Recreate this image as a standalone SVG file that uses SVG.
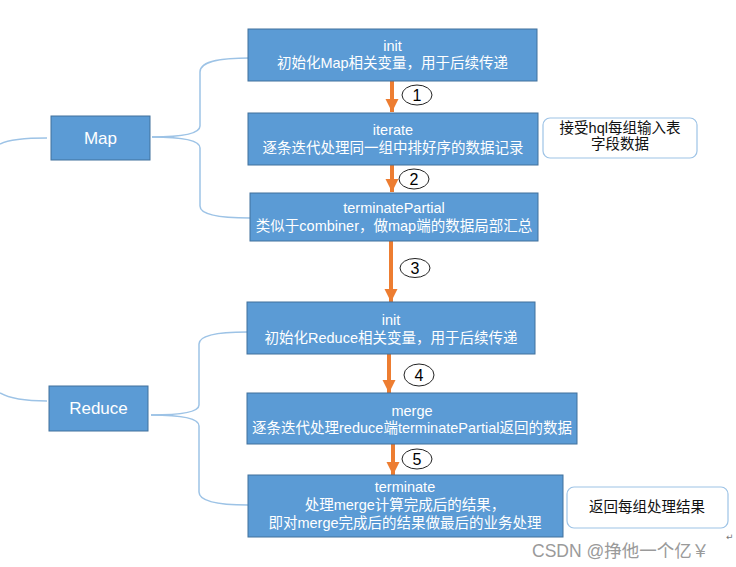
<svg xmlns="http://www.w3.org/2000/svg" width="736" height="567" viewBox="0 0 736 567">
<style>
.box{fill:#5B9BD5;stroke:#41719C;stroke-width:1}
.t{font-family:"Liberation Sans","Noto Sans CJK SC",sans-serif;font-size:14.5px;fill:#fff;text-anchor:middle}
.big{font-size:17px}
.note{fill:#fff;stroke:#9DC3E6;stroke-width:1.2}
.nt{font-family:"Liberation Sans","Noto Sans CJK SC",sans-serif;font-size:14.5px;fill:#111;text-anchor:middle}
.lk{fill:none;stroke:#9DC3E6;stroke-width:1.5}
.arr{stroke:#ED7D31;stroke-width:4;fill:none}
.num{fill:#fff;stroke:#222;stroke-width:1}
.nn{font-family:"Liberation Sans",sans-serif;font-size:16px;fill:#000;text-anchor:middle}
.wm{font-family:"Liberation Sans","Noto Sans CJK SC",sans-serif;font-size:17.5px;fill:#9a9a9a}
</style>
<defs>
<marker id="ah" viewBox="0 0 10 10" refX="10" refY="5" markerWidth="3.3" markerHeight="3.3" markerUnits="strokeWidth" orient="auto">
<path d="M0,0 L10,5 L0,10 z" fill="#ED7D31"/>
</marker>
</defs>
<g id="connectors">
<path class="lk" d="M0,144 C10,139 30,138 47,138"/>
<path class="lk" d="M152,137 C180,137 200,134 200,126 L200,72 C200,60 225,58 250,58"/>
<path class="lk" d="M152,137 C180,137 200,140 200,148 L200,206 C200,216 225,218 250,218"/>
<path class="lk" d="M0,393 C10,399 30,401 47,401"/>
<path class="lk" d="M151,415 C178,415 199,413 199,405 L199,344 C199,334 222,332 247,332"/>
<path class="lk" d="M151,415 C178,415 199,418 199,426 L199,492 C199,502 222,505 248,505"/>
<line class="arr" x1="392" y1="81" x2="392" y2="112" marker-end="url(#ah)"/>
<line class="arr" x1="392" y1="165" x2="392" y2="192" marker-end="url(#ah)"/>
<line class="arr" x1="391" y1="241" x2="391" y2="302" marker-end="url(#ah)"/>
<line class="arr" x1="389" y1="354" x2="389" y2="393" marker-end="url(#ah)"/>
<line class="arr" x1="393" y1="444" x2="393" y2="475" marker-end="url(#ah)"/>
</g>
<g id="n1"><ellipse class="num" cx="417" cy="95" rx="15" ry="10"/><text class="nn" x="417" y="100.5">1</text></g>
<g id="n2"><ellipse class="num" cx="414" cy="179" rx="15" ry="10"/><text class="nn" x="414" y="184.5">2</text></g>
<g id="n3"><ellipse class="num" cx="415" cy="268" rx="15" ry="9.5"/><text class="nn" x="415" y="273.5">3</text></g>
<g id="n4"><ellipse class="num" cx="419" cy="375" rx="15" ry="11"/><text class="nn" x="419" y="380.5">4</text></g>
<g id="n5"><ellipse class="num" cx="417" cy="459" rx="15" ry="10"/><text class="nn" x="417" y="464.5">5</text></g>
<g id="map"><rect class="box" x="51" y="116" width="99" height="44"/><text class="t big" x="100.5" y="144">Map</text></g>
<g id="reduce"><rect class="box" x="49" y="386" width="99" height="45"/><text class="t big" x="98.5" y="414">Reduce</text></g>
<g id="init-map"><rect class="box" x="248" y="29" width="289" height="52"/>
<text class="t" x="392.5" y="51">init</text><text class="t" x="392.5" y="68">初始化Map相关变量，用于后续传递</text></g>
<g id="iterate"><rect class="box" x="248" y="113" width="290" height="52"/>
<text class="t" x="393" y="135">iterate</text><text class="t" x="393" y="153">逐条迭代处理同一组中排好序的数据记录</text></g>
<g id="terminatePartial"><rect class="box" x="250" y="193" width="288" height="48"/>
<text class="t" x="394" y="213">terminatePartial</text><text class="t" x="394" y="231">类似于combiner，做map端的数据局部汇总</text></g>
<g id="init-reduce"><rect class="box" x="247" y="302" width="288" height="52"/>
<text class="t" x="391" y="325">init</text><text class="t" x="391" y="343">初始化Reduce相关变量，用于后续传递</text></g>
<g id="merge"><rect class="box" x="247" y="393" width="330" height="51"/>
<text class="t" x="412" y="416">merge</text><text class="t" x="412" y="433">逐条迭代处理reduce端terminatePartial返回的数据</text></g>
<g id="terminate"><rect class="box" x="248" y="475" width="315" height="62"/>
<text class="t" x="405" y="492">terminate</text><text class="t" x="405" y="510">处理merge计算完成后的结果，</text><text class="t" x="405" y="528">即对merge完成后的结果做最后的业务处理</text></g>
<g id="note1"><rect class="note" x="543" y="118" width="154" height="40" rx="7"/>
<text class="nt" x="620" y="133">接受hql每组输入表</text><text class="nt" x="620" y="149">字段数据</text></g>
<g id="note2"><rect class="note" x="567" y="487" width="161" height="41" rx="7"/>
<text class="nt" x="647" y="512">返回每组处理结果</text></g>
<text class="wm" x="532" y="557">CSDN @挣他一个亿￥</text>
<text x="726" y="540" style="font-family:'DejaVu Sans',sans-serif;font-size:9px;fill:#777">↵</text>
</svg>
